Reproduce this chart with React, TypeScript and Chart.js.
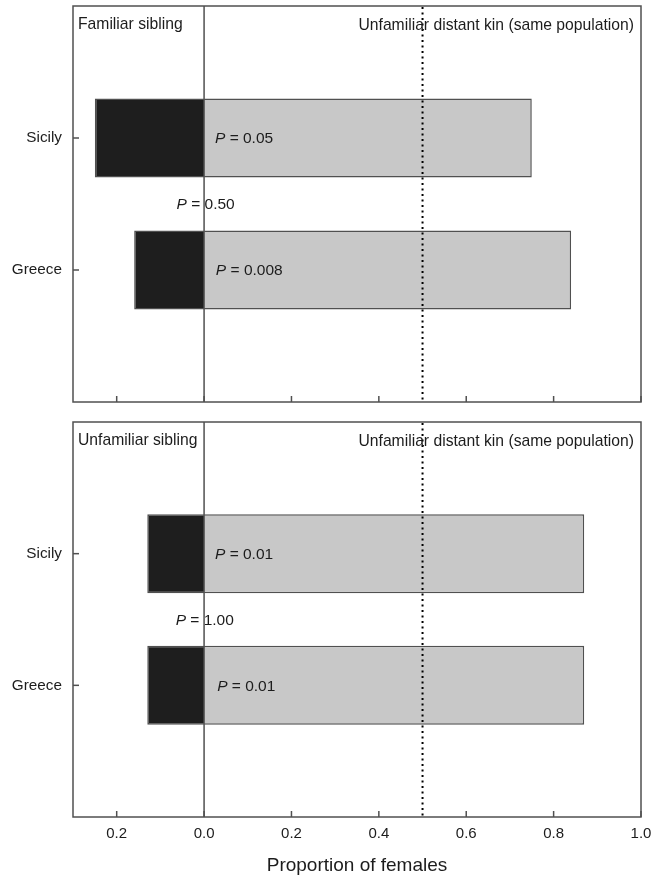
import React, { useEffect, useRef } from 'react';
import { Chart, registerables } from 'chart.js';

Chart.register(...registerables);

// ---- data ----
const categories = ['', 'Sicily', 'Greece', ''];
const topSibling = [null, -0.25, -0.16, null];
const topDistant = [null, 0.75, 0.84, null];
const bottomSibling = [null, -0.13, -0.13, null];
const bottomDistant = [null, 0.87, 0.87, null];
const topHeaders = ['Familiar sibling', 'Unfamiliar distant kin (same population)'];
const bottomHeaders = ['Unfamiliar sibling', 'Unfamiliar distant kin (same population)'];
const topPValues = [
  { value: '0.05', x: 0.025, y: 1 },
  { value: '0.50', x: -0.063, y: 1.5 },
  { value: '0.008', x: 0.027, y: 2 },
];
const bottomPValues = [
  { value: '0.01', x: 0.025, y: 1 },
  { value: '1.00', x: -0.065, y: 1.5 },
  { value: '0.01', x: 0.03, y: 2 },
];
const xTickValues = [-0.2, 0, 0.2, 0.4, 0.6, 0.8, 1.0];
const referenceLine = 0.5;
const xMin = -0.3;
const xMax = 1.0;
const xTitle = 'Proportion of females';

const FONT = '"Liberation Sans", Arial, Helvetica, sans-serif';
const TEXT = '#1c1c1c';
const LINE = '#505050';

const decorPlugin = {
  id: 'decor',
  afterDatasetsDraw(chart: any, _args: any, opts: any) {
    const { ctx, chartArea: a, scales } = chart;
    const x = scales.x;
    const y = scales.y;
    ctx.save();
    ctx.strokeStyle = LINE;
    ctx.lineWidth = 1.5;
    const seg = (x1: number, y1: number, x2: number, y2: number) => {
      ctx.beginPath();
      ctx.moveTo(x1, y1);
      ctx.lineTo(x2, y2);
      ctx.stroke();
    };
    // zero line
    const x0 = x.getPixelForValue(0);
    seg(x0, a.top, x0, a.bottom);
    // inward x ticks
    xTickValues.forEach((v) => {
      const px = x.getPixelForValue(v);
      seg(px, a.bottom, px, a.bottom - 6);
    });
    // inward y ticks
    categories.forEach((c, i) => {
      if (!c) return;
      const py = y.getPixelForValue(i);
      seg(a.left, py, a.left + 6, py);
    });
    // frame
    ctx.strokeRect(a.left, a.top, a.right - a.left, a.bottom - a.top);
    // dotted reference line
    ctx.setLineDash([2, 3.5]);
    ctx.strokeStyle = '#000';
    ctx.lineWidth = 2;
    const xr = x.getPixelForValue(referenceLine);
    seg(xr, a.top + 1, xr, a.bottom);
    ctx.setLineDash([]);
    // headers
    ctx.fillStyle = TEXT;
    ctx.textBaseline = 'middle';
    ctx.font = `15.7px ${FONT}`;
    ctx.textAlign = 'left';
    ctx.fillText(opts.headers[0], a.left + 5, a.top + 19);
    ctx.textAlign = 'right';
    ctx.fillText(opts.headers[1], a.right - 7, a.top + 20);
    // P labels
    ctx.textAlign = 'left';
    opts.pValues.forEach((p: any) => {
      const px = x.getPixelForValue(p.x);
      const py = y.getPixelForValue(p.y) + 1;
      ctx.font = `italic 15.5px ${FONT}`;
      ctx.fillText('P', px, py);
      const w = ctx.measureText('P').width;
      ctx.font = `15.5px ${FONT}`;
      ctx.fillText(' = ' + p.value, px + w, py);
    });
    ctx.restore();
  },
};

const noPad = (s: any) => {
  s.paddingTop = 0;
  s.paddingBottom = 0;
  s.paddingLeft = 0;
  s.paddingRight = 0;
};

function makeConfig(sib: any[], dist: any[], headers: string[], pValues: any[], showX: boolean) {
  return {
    type: 'bar',
    data: {
      labels: categories,
      datasets: [
        {
          data: sib,
          backgroundColor: '#1e1e1e',
          borderColor: LINE,
          borderWidth: 1.5,
          barPercentage: 0.6,
          categoryPercentage: 1,
        },
        {
          data: dist,
          backgroundColor: '#c8c8c8',
          borderColor: LINE,
          borderWidth: 1.5,
          barPercentage: 0.6,
          categoryPercentage: 1,
        },
      ],
    },
    options: {
      indexAxis: 'y',
      animation: false,
      responsive: false,
      devicePixelRatio: 1,
      layout: {
        padding: showX
          ? { left: 0, right: 10, top: 10, bottom: 0 }
          : { left: 0, right: 10, top: 6, bottom: 10 },
      },
      plugins: {
        legend: { display: false },
        tooltip: { enabled: false },
        decor: { headers, pValues },
      },
      scales: {
        x: {
          type: 'linear',
          min: xMin,
          max: xMax,
          stacked: true,
          display: showX,
          grid: { display: false, drawTicks: false },
          border: { display: false },
          ticks: {
            stepSize: 0.2,
            includeBounds: false,
            autoSkip: false,
            maxRotation: 0,
            padding: 8,
            color: TEXT,
            font: { family: FONT, size: 15 },
            callback: (v: number) => Math.abs(v).toFixed(1),
          },
          title: {
            display: showX,
            text: xTitle,
            color: TEXT,
            font: { family: FONT, size: 19 },
            padding: { top: 0, bottom: 0 },
          },
          afterFit: (s: any) => {
            if (showX) s.height = 60;
            noPad(s);
          },
        },
        y: {
          type: 'category',
          offset: false,
          stacked: true,
          grid: { display: false, drawTicks: false },
          border: { display: false },
          ticks: {
            padding: 11,
            color: TEXT,
            font: { family: FONT, size: 15.3 },
            autoSkip: false,
          },
          afterFit: (s: any) => {
            s.width = 73;
            noPad(s);
          },
        },
      },
    },
    plugins: [decorPlugin],
  };
}

export default function App() {
  const topRef = useRef<HTMLCanvasElement>(null);
  const bottomRef = useRef<HTMLCanvasElement>(null);

  useEffect(() => {
    const c1 = new Chart(topRef.current as any, makeConfig(topSibling, topDistant, topHeaders, topPValues, false) as any);
    const c2 = new Chart(bottomRef.current as any, makeConfig(bottomSibling, bottomDistant, bottomHeaders, bottomPValues, true) as any);
    return () => {
      c1.destroy();
      c2.destroy();
    };
  }, []);

  return (
    <div style={{ position: 'absolute', left: 0, top: 0, width: 651, height: 877, background: '#fff' }}>
      <canvas ref={topRef} width={651} height={412} style={{ display: 'block', width: 651, height: 412 }} />
      <canvas ref={bottomRef} width={651} height={465} style={{ display: 'block', width: 651, height: 465 }} />
    </div>
  );
}
